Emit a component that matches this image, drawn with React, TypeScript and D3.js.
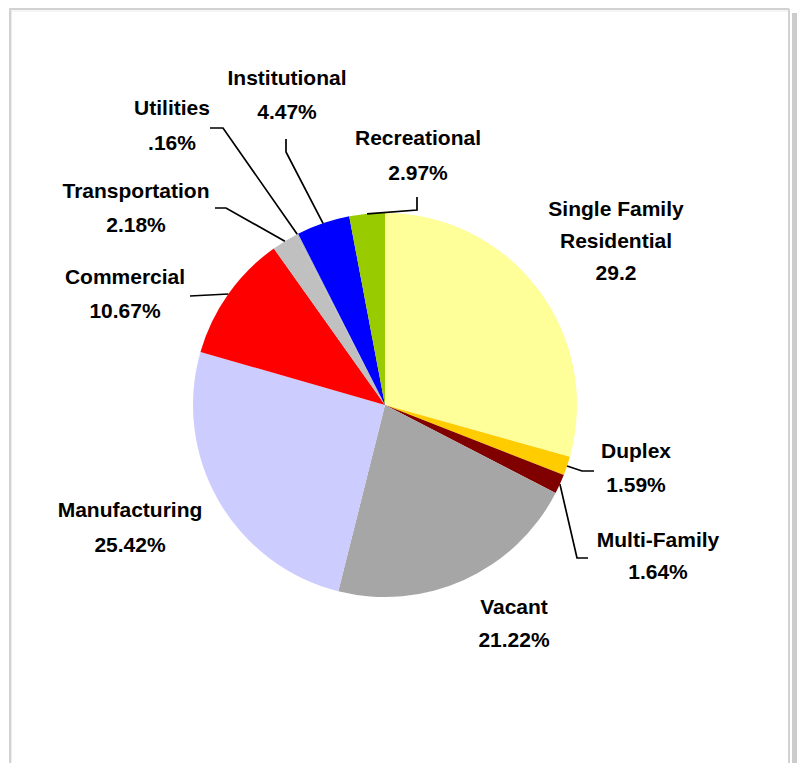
import React from "react";
import * as d3 from "d3";

const categories = [
  "Single Family Residential",
  "Duplex",
  "Multi-Family",
  "Vacant",
  "Manufacturing",
  "Commercial",
  "Transportation",
  "Utilities",
  "Institutional",
  "Recreational",
];
const values = [29.2, 1.59, 1.64, 21.22, 25.42, 10.67, 2.18, 0.16, 4.47, 2.97];
const labelLines = [
  ["Single Family", "Residential", "29.2"],
  ["Duplex", "1.59%"],
  ["Multi-Family", "1.64%"],
  ["Vacant", "21.22%"],
  ["Manufacturing", "25.42%"],
  ["Commercial", "10.67%"],
  ["Transportation", "2.18%"],
  ["Utilities", ".16%"],
  ["Institutional", "4.47%"],
  ["Recreational", "2.97%"],
];
const colors = [
  "#FFFF99",
  "#FFCC00",
  "#800000",
  "#A6A6A6",
  "#CCCCFF",
  "#FF0000",
  "#C0C0C0",
  "#BBBBBB",
  "#0000FF",
  "#99CC00",
];

// layout: label centre x, first baseline y, line gap; leader polyline points (label side) or null
const layout: { x: number; y: number; gap: number; leader: [number, number][] | null }[] = [
  { x: 616, y: 216, gap: 32, leader: null },
  { x: 636, y: 458, gap: 34, leader: [[594, 471], [582, 471]] },
  { x: 658, y: 547, gap: 32, leader: [[588, 558], [577, 558]] },
  { x: 514, y: 614, gap: 33, leader: null },
  { x: 130, y: 517, gap: 35, leader: null },
  { x: 125, y: 284, gap: 34, leader: [[190, 296]] },
  { x: 136, y: 198, gap: 34, leader: [[215, 208], [226, 208]] },
  { x: 172, y: 115, gap: 35, leader: [[210, 128], [223, 128]] },
  { x: 287, y: 85, gap: 34, leader: [[286, 139], [286, 152]] },
  { x: 418, y: 145, gap: 35, leader: [[417, 197], [417, 210]] },
];

const W = 797;
const H = 763;
const cx = 385;
const cy = 405;
const R = 192;

export default function App() {
  const pie = d3
    .pie<number>()
    .sort(null)
    .value((d) => d)
    .startAngle(0)
    .endAngle(2 * Math.PI);
  const arcs = pie(values);
  const arc = d3.arc<d3.PieArcDatum<number>>().innerRadius(0).outerRadius(R);

  return (
    <svg
      width={W}
      height={H}
      style={{ position: "absolute", left: 0, top: 0, display: "block", background: "#fff" }}
    >
      {/* frame */}
      <rect x={792} y={13} width={5} height={H} fill="#cccccc" />
      <line x1={9} y1={9} x2={789} y2={9} stroke="#d2d2d2" strokeWidth={2} />
      <line x1={10} y1={9} x2={10} y2={H} stroke="#d2d2d2" strokeWidth={2} />
      <line x1={789} y1={9} x2={789} y2={H} stroke="#d2d2d2" strokeWidth={2} />
      <line x1={11} y1={11} x2={788} y2={11} stroke="#ececec" strokeWidth={1} />
      <line x1={11.5} y1={11} x2={11.5} y2={H} stroke="#ececec" strokeWidth={1} />

      <g transform={`translate(${cx},${cy})`}>
        {arcs.map((a, i) => (
          <path key={categories[i]} d={arc(a) || ""} fill={colors[i]} />
        ))}
      </g>

      {arcs.map((a, i) => {
        const L = layout[i];
        if (!L.leader) return null;
        const mid = (a.startAngle + a.endAngle) / 2;
        const px = cx + R * Math.sin(mid);
        const py = cy - R * Math.cos(mid);
        const pts: [number, number][] = [...L.leader, [px, py]];
        return (
          <polyline
            key={"l" + i}
            points={pts.map((p) => p.join(",")).join(" ")}
            fill="none"
            stroke="#000"
            strokeWidth={1.7}
          />
        );
      })}

      {labelLines.map((lines, i) => {
        const L = layout[i];
        return (
          <text
            key={"t" + i}
            textAnchor="middle"
            fontFamily="'Liberation Sans', Arial, sans-serif"
            fontWeight="bold"
            fontSize={21}
            fill="#000"
          >
            {lines.map((s, j) => (
              <tspan key={j} x={L.x} y={L.y + j * L.gap}>
                {s}
              </tspan>
            ))}
          </text>
        );
      })}
    </svg>
  );
}
